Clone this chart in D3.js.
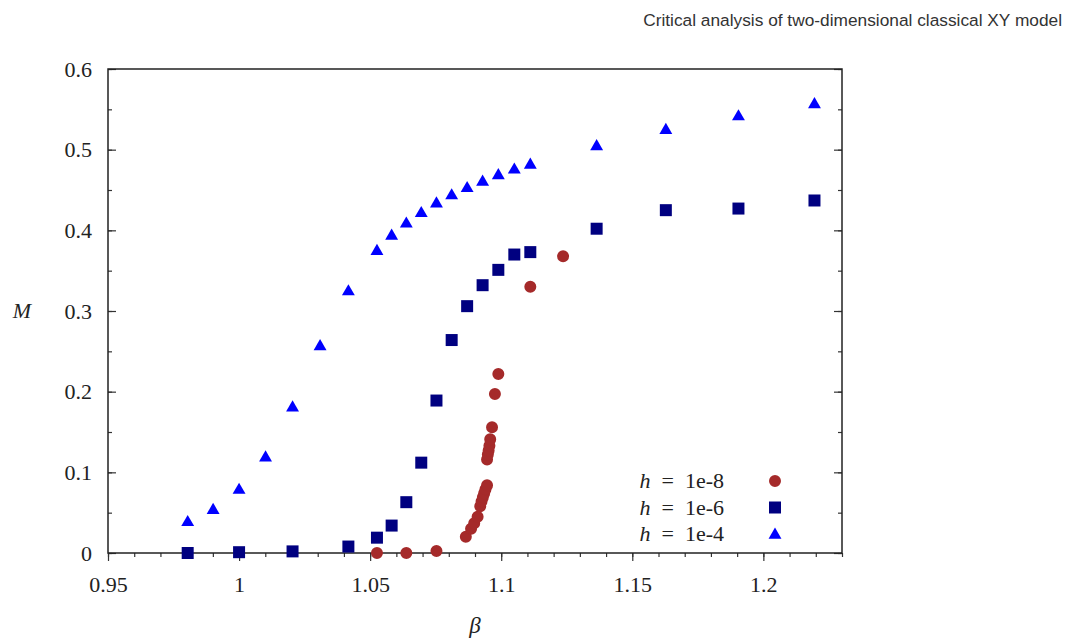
<!DOCTYPE html>
<html>
<head>
<meta charset="utf-8">
<script src="https://cdn.jsdelivr.net/npm/d3@7"></script>
<style>
  body { margin: 0; background: #fff; }
  svg { display: block; }
</style>
</head>
<body>
<div id="chart"></div>
<script>
/* data */

// h = 1e-8
var betaH8 = [1.0526, 1.0638, 1.0753, 1.0865, 1.0885, 1.0897, 1.0910, 1.0920, 1.0925, 1.0930, 1.0935, 1.0940, 1.0946,
  1.0946, 1.0949, 1.0952, 1.0955, 1.0958, 1.0965, 1.0976, 1.0989, 1.1111, 1.1236]
var magH8 = [0.000, 0.000, 0.0025, 0.020, 0.030, 0.037, 0.045, 0.058, 0.064, 0.069, 0.074, 0.079, 0.084,
  0.116, 0.122, 0.127, 0.133, 0.141, 0.156, 0.197, 0.222, 0.330, 0.368]

// h = 1e-6
var betaH6 = [0.9804, 1.0000, 1.0204, 1.0417, 1.0526, 1.0582, 1.0638, 1.0695, 1.0753, 1.0811, 1.0870, 1.0929,
  1.0989, 1.1050, 1.1111, 1.1364, 1.1628, 1.1905, 1.2195]
var magH6 = [0.000, 0.001, 0.002, 0.008, 0.019, 0.034, 0.063, 0.112, 0.189, 0.264, 0.306, 0.332,
  0.351, 0.370, 0.373, 0.402, 0.425, 0.427, 0.437]

// h = 1e-4
var betaH4 = [0.9804, 0.9901, 1.0000, 1.0101, 1.0204, 1.0309, 1.0417, 1.0526, 1.0582, 1.0638, 1.0695, 1.0753,
  1.0811, 1.0870, 1.0929, 1.0989, 1.1050, 1.1111, 1.1364, 1.1628, 1.1905, 1.2195]
var magH4 = [0.038, 0.053, 0.078, 0.118, 0.180, 0.256, 0.324, 0.374, 0.393, 0.408, 0.421, 0.433,
  0.443, 0.452, 0.460, 0.468, 0.475, 0.481, 0.504, 0.524, 0.541, 0.556]

var xTicks = [0.95, 1, 1.05, 1.1, 1.15, 1.2]
var xTickLabels = ["0.95", "1", "1.05", "1.1", "1.15", "1.2"]
var yTicks = [0, 0.1, 0.2, 0.3, 0.4, 0.5, 0.6]
var yTickLabels = ["0", "0.1", "0.2", "0.3", "0.4", "0.5", "0.6"]

var seriesLabels = ["1e-8", "1e-6", "1e-4"]
var seriesColors = ["#a52a2a", "#000080", "#0000ff"]

var serif = "'Liberation Serif', 'DejaVu Serif', serif"

var width = 1073, height = 639
var margin = { left: 108, right: 231, top: 69, bottom: 86 }

var svg = d3.select("#chart").append("svg")
  .attr("width", width).attr("height", height)

var x = d3.scaleLinear().domain([0.95, 1.23]).range([margin.left, width - margin.right])
var y = d3.scaleLinear().domain([0, 0.6]).range([height - margin.bottom, margin.top])

// title - fit font size so it spans ~420px like the reference
var title = svg.append("text")
  .attr("x", 1062).attr("y", 26)
  .attr("text-anchor", "end")
  .style("font-family", "'Liberation Sans', sans-serif")
  .style("font-size", "18px")
  .style("fill", "#333")
  .text("Critical analysis of two-dimensional classical XY model")
var tw = title.node().getComputedTextLength()
title.style("font-size", (18 * 419 / tw) + "px")

// minor ticks drawn by the axis generators, labels only on the majors
var xMinor = d3.range(95, 124).map(d => d / 100)
var yMinor = d3.range(0, 13).map(d => d * 0.05)

svg.append("g")
  .attr("transform", `translate(0,${y(0)})`)
  .call(d3.axisBottom(x).tickValues(xMinor).tickSize(4).tickFormat(""))
svg.append("g")
  .attr("transform", `translate(0,${y(0)})`)
  .call(d3.axisBottom(x).tickValues(xTicks).tickSize(8).tickPadding(15)
    .tickFormat((d, i) => xTickLabels[i]))

svg.append("g")
  .attr("transform", `translate(${x(0.95)},0)`)
  .call(d3.axisRight(y).tickValues(yMinor).tickSize(4).tickFormat(""))
svg.append("g")
  .attr("transform", `translate(${x(0.95)},0)`)
  .call(d3.axisRight(y).tickValues(yTicks).tickSize(8).tickFormat(""))
svg.append("g")
  .attr("transform", `translate(${x(0.95)},0)`)
  .call(d3.axisLeft(y).tickValues(yTicks).tickSize(0).tickPadding(16)
    .tickFormat((d, i) => yTickLabels[i]))

svg.append("g")
  .attr("transform", `translate(${x(1.23)},0)`)
  .call(d3.axisLeft(y).tickValues(yMinor).tickSize(4).tickFormat(""))
svg.append("g")
  .attr("transform", `translate(${x(1.23)},0)`)
  .call(d3.axisLeft(y).tickValues(yTicks).tickSize(8).tickFormat(""))

svg.selectAll(".domain").remove()
svg.selectAll(".tick line").attr("stroke", "#333").attr("stroke-width", 1.2)
svg.selectAll(".tick text")
  .attr("font-family", null)
  .style("font-family", serif)
  .style("font-size", "22px")
  .attr("fill", "#222")

// frame
svg.append("rect")
  .attr("x", x(0.95)).attr("y", y(0.6))
  .attr("width", x(1.23) - x(0.95)).attr("height", y(0) - y(0.6))
  .attr("fill", "none").attr("stroke", "#222").attr("stroke-width", 1.5)

// axis labels
svg.append("text")
  .attr("x", 22).attr("y", 318).attr("text-anchor", "middle")
  .style("font-family", serif)
  .style("font-size", "22px").style("font-style", "italic").style("fill", "#222")
  .text("M")
svg.append("text")
  .attr("x", 475).attr("y", 633).attr("text-anchor", "middle")
  .style("font-family", serif)
  .style("font-size", "23px").style("font-style", "italic").style("fill", "#222")
  .text("β")

// points
var symbols = [d3.symbolCircle, d3.symbolSquare, d3.symbolTriangle]
var sizes = [113, 144, 72]
var allSeries = [
  d3.zip(betaH8, magH8),
  d3.zip(betaH6, magH6),
  d3.zip(betaH4, magH4)
]

allSeries.forEach(function (pts, k) {
  svg.append("g").selectAll("path")
    .data(pts)
    .enter().append("path")
    .attr("d", d3.symbol().type(symbols[k]).size(sizes[k]))
    .attr("transform", d => `translate(${x(d[0])},${y(d[1])})`)
    .attr("fill", seriesColors[k])
})

// legend
var legend = svg.append("g")
seriesLabels.forEach(function (lab, k) {
  var ly = 481 + k * 26.5
  var t = legend.append("text")
    .attr("x", 724).attr("y", ly + 7).attr("text-anchor", "end")
    .style("font-family", serif)
    .style("font-size", "22px").style("fill", "#222")
  t.append("tspan").style("font-style", "italic").text("h")
  t.append("tspan").text("\u2002=\u2002" + lab)
  legend.append("path")
    .attr("d", d3.symbol().type(symbols[k]).size(sizes[k]))
    .attr("transform", `translate(775,${ly + (k == 2 ? 1 : 0)})`)
    .attr("fill", seriesColors[k])
})
</script>
</body>
</html>
